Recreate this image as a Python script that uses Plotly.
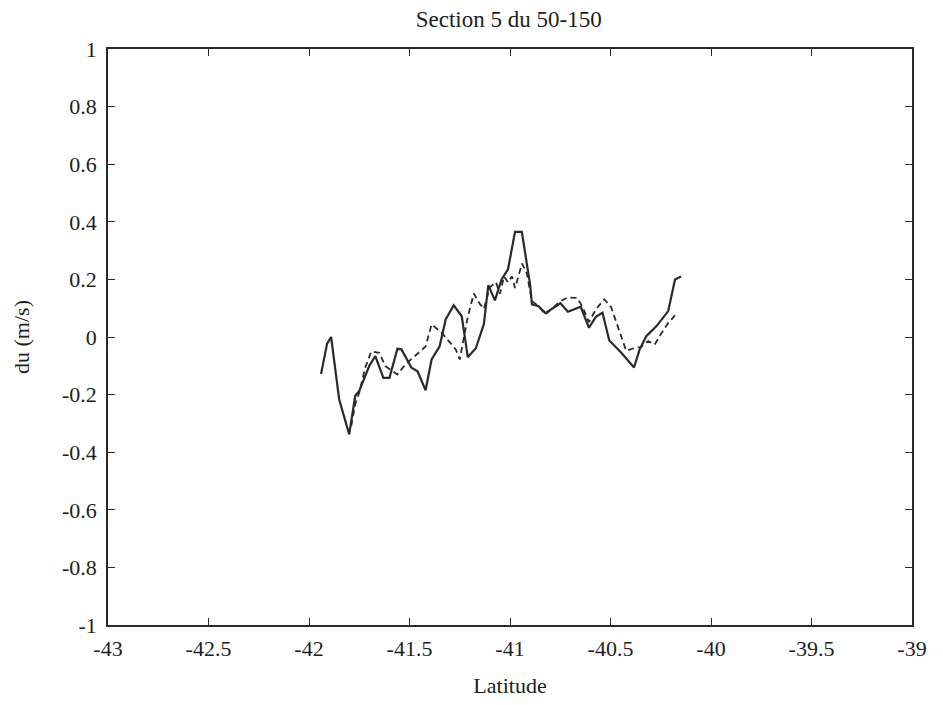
import plotly.graph_objects as go

# Solid series (latitude, du)
lat_solid = [-41.94, -41.91, -41.89, -41.85, -41.80, -41.77, -41.75, -41.70, -41.67, -41.63,
             -41.60, -41.56, -41.54, -41.49, -41.46, -41.42, -41.39, -41.35, -41.32, -41.28,
             -41.24, -41.21, -41.17, -41.13, -41.108, -41.075, -41.042, -41.01, -40.975, -40.941,
             -40.916, -40.90, -40.891, -40.858, -40.824, -40.79, -40.749, -40.712, -40.648, -40.607,
             -40.573, -40.54, -40.506, -40.447, -40.383, -40.355, -40.322, -40.271, -40.213, -40.179,
             -40.149]
du_solid = [-0.128, -0.023, 0.0, -0.216, -0.338, -0.204, -0.187, -0.10, -0.066, -0.142,
            -0.142, -0.041, -0.043, -0.107, -0.119, -0.185, -0.078, -0.032, 0.061, 0.11,
            0.072, -0.07, -0.039, 0.045, 0.18, 0.127, 0.20, 0.235, 0.365, 0.365,
            0.253, 0.183, 0.113, 0.107, 0.083, 0.099, 0.117, 0.088, 0.105, 0.032,
            0.07, 0.084, -0.012, -0.054, -0.106, -0.043, 0.003, 0.038, 0.09, 0.20,
            0.21]

# Dashed series (latitude, du)
lat_dash = [-41.79, -41.77, -41.75, -41.72, -41.69, -41.65, -41.62, -41.56, -41.52, -41.45,
            -41.42, -41.39, -41.34, -41.27, -41.25, -41.21, -41.18, -41.15, -41.13, -41.10,
            -41.07, -41.05, -41.03, -41.01, -40.99, -40.975, -40.95, -40.94, -40.916, -40.90,
            -40.891, -40.858, -40.824, -40.79, -40.749, -40.715, -40.665, -40.64, -40.607, -40.573,
            -40.531, -40.497, -40.472, -40.447, -40.422, -40.388, -40.347, -40.313, -40.28, -40.246,
            -40.213, -40.179]
du_dash = [-0.309, -0.233, -0.193, -0.106, -0.05, -0.055, -0.101, -0.13, -0.095, -0.05,
           -0.033, 0.044, 0.015, -0.043, -0.078, 0.07, 0.151, 0.115, 0.098, 0.173,
           0.19, 0.15, 0.21, 0.19, 0.21, 0.17, 0.23, 0.255, 0.22, 0.16,
           0.125, 0.107, 0.078, 0.10, 0.124, 0.137, 0.136, 0.105, 0.052, 0.096,
           0.131, 0.104, 0.051, -0.001, -0.048, -0.04, -0.034, -0.014, -0.026, 0.014,
           0.049, 0.075]

x_ticks = [-43, -42.5, -42, -41.5, -41, -40.5, -40, -39.5, -39]
y_ticks = [-1, -0.8, -0.6, -0.4, -0.2, 0, 0.2, 0.4, 0.6, 0.8, 1]

FONT = "Liberation Serif, Times New Roman, DejaVu Serif, serif"
INK = "#2a2a2a"
TXT = "#1e1e1e"

fig = go.Figure()
fig.add_trace(go.Scatter(x=lat_solid, y=du_solid, mode="lines",
                         line=dict(color=INK, width=2.2), showlegend=False))
fig.add_trace(go.Scatter(x=lat_dash, y=du_dash, mode="lines",
                         line=dict(color=INK, width=1.8, dash="6px,4px"), showlegend=False))

axis_common = dict(showgrid=False, zeroline=False, showline=True, linecolor=INK, linewidth=1.6,
                   mirror="allticks", ticks="inside", ticklen=7, tickcolor=INK, tickwidth=1.3,
                   tickfont=dict(family=FONT, size=22, color=TXT))

fig.update_layout(
    width=943, height=705,
    paper_bgcolor="white", plot_bgcolor="white",
    margin=dict(l=100, r=39, t=41, b=88),
    title=dict(text="Section 5 du 50-150", x=0.531, xanchor="center", y=0.984, yanchor="middle",
               font=dict(family=FONT, size=23, color=TXT)),
    xaxis=dict(range=[-43, -39], tickvals=x_ticks, ticktext=[f"{v:g}" for v in x_ticks],
               ticklabelstandoff=3,
               title=dict(text="Latitude", font=dict(family=FONT, size=22, color=TXT), standoff=17),
               **axis_common),
    yaxis=dict(range=[-1, 1], tickvals=y_ticks, ticktext=[f"{v:g}" for v in y_ticks],
               ticklabelstandoff=5,
               title=dict(text="du (m/s)", font=dict(family=FONT, size=22, color=TXT), standoff=26),
               **axis_common),
)

fig.write_html("out.html")
